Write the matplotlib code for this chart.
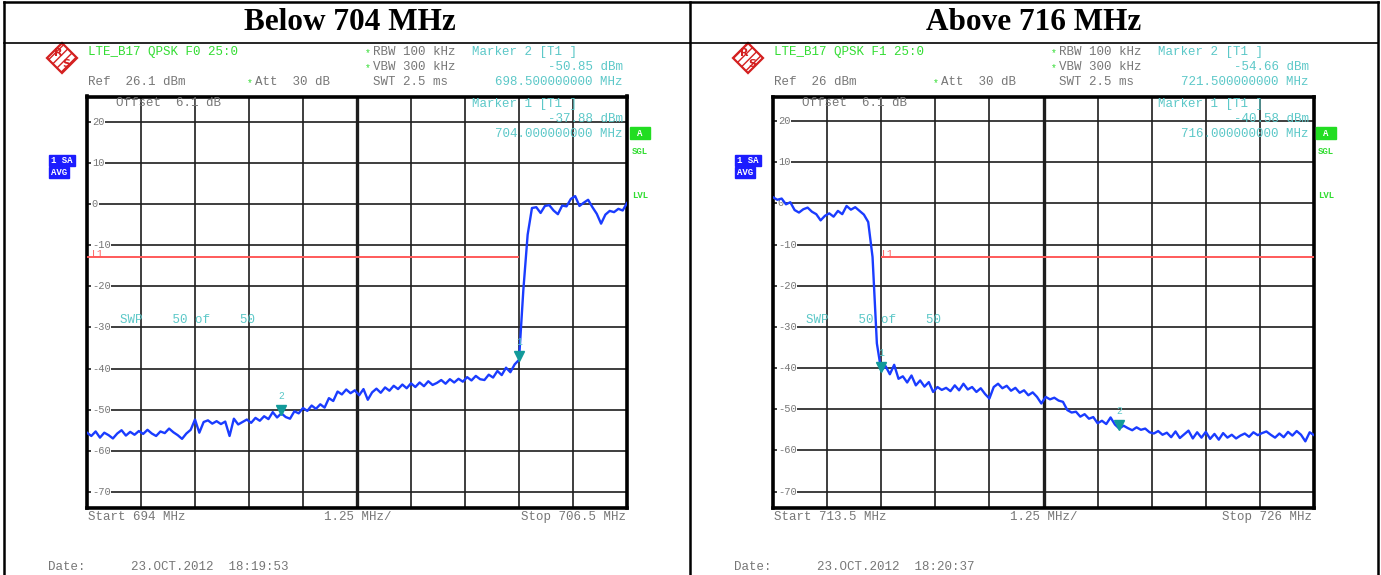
"""Spectrum analyzer screenshots: band-edge emissions below 704 MHz / above 716 MHz."""

import matplotlib
matplotlib.use("Agg")
import matplotlib.pyplot as plt
from matplotlib.patches import Polygon, Rectangle
from matplotlib.transforms import blended_transform_factory
import numpy as np

W, H = 1381, 575
MONO = "Liberation Mono"
SERIF = "Liberation Serif"

TRACE_BLUE = "#1a3cff"
TEAL = "#5cc8c8"
MARKER_TEAL = "#129a9a"
GREEN = "#33dd33"
GRAY = "#777777"
RED = "#ff5a5a"

# ── data ──
HEADERS = ["Below 704 MHz", "Above 716 MHz"]
LEFT_SPAN = (694.0, 706.5)
RIGHT_SPAN = (713.5, 726.0)
LEFT_REF = 26.1
RIGHT_REF = 26.0
LIMIT_DBM = -13.0
Y_TICKS = [20, 10, 0, -10, -20, -30, -40, -50, -60, -70]

LEFT_TRACE = [
    -55.6, -56.4, -55.3, -56.8, -55.6, -56.2, -57.0, -55.8, -55.0, -56.3,
    -55.4, -56.1, -55.2, -55.9, -54.9, -55.8, -56.4, -55.3, -55.7, -54.6,
    -55.5, -56.2, -57.1, -55.8, -54.9, -52.4, -55.6, -53.0, -52.6, -53.4,
    -52.8, -53.5, -52.9, -56.4, -52.2, -53.6, -53.0, -52.4, -53.2, -52.0,
    -52.7, -51.6, -52.3, -50.6, -51.9, -50.9, -51.8, -52.2, -50.4, -50.9,
    -49.6, -50.3, -49.0, -49.8, -48.7, -49.5, -47.2, -47.9, -45.6, -46.3,
    -45.1, -46.0, -45.3, -46.5, -45.0, -47.6, -45.8, -44.9, -45.9, -44.6,
    -45.4, -44.2, -45.0, -43.9, -44.8, -43.6, -44.5, -43.4, -44.3, -43.1,
    -44.0, -43.5, -42.8, -43.7, -42.6, -43.4, -42.5, -43.2, -42.1, -42.9,
    -41.8, -42.6, -42.8, -41.5, -42.2, -40.6, -41.6, -39.8, -40.9, -39.0,
    -37.9, -21.0, -7.5, -1.0, -0.8, -2.2, -0.5, -0.3, -1.6, -2.5,
    -0.4, -0.6, 1.2, 1.9, -0.5, 0.3, 1.0, -0.8, -2.4, -4.8,
    -2.6, -1.7, -2.0, -1.2, -1.6, 0.2,
]

RIGHT_TRACE = [
    1.5, 0.9, 1.2, -0.2, 0.3, -1.6, -2.2, -1.4, -1.0, -2.0,
    -2.6, -4.1, -3.0, -2.4, -3.2, -1.8, -2.6, -0.6, -1.5, -0.9,
    -1.8, -2.7, -4.5, -13.0, -34.0, -40.6,
    -39.5, -41.5, -39.2, -42.6, -42.0, -43.5, -41.8, -44.2, -43.0, -44.5,
    -43.4, -45.8, -44.6, -45.3, -44.8, -45.6, -44.2, -45.4, -43.8, -45.2,
    -44.6, -45.8, -44.9, -46.3, -47.4, -44.6, -43.8, -44.9, -44.3, -45.5,
    -44.8, -46.0, -45.4, -46.6, -45.9, -47.0, -48.6, -47.0, -47.6, -47.2,
    -47.9, -48.2, -50.2, -50.8, -50.6, -51.8, -51.2, -52.3, -51.9, -53.4,
    -52.8, -53.6, -52.0, -53.7, -54.7, -54.0, -54.6, -55.1, -54.4, -55.0,
    -54.7, -55.6, -55.9, -55.3, -56.2, -55.7, -56.8, -55.4, -57.0, -56.1,
    -55.2, -57.1, -55.6, -56.9, -55.5, -57.2, -56.0, -57.4, -55.8, -56.9,
    -56.2, -57.1, -56.4, -55.9, -56.7, -55.6, -56.3, -55.8, -55.4, -56.2,
    -56.9, -55.9, -56.8, -55.5, -56.4, -55.3, -56.2, -57.8, -55.6, -56.3,
]

LEFT_MARKERS = [(704.0, -37.88, "1"), (698.5, -50.85, "2")]
RIGHT_MARKERS = [(716.0, -40.58, "1"), (721.5, -54.66, "2")]
LEFT_LIMIT = (694.0, 704.0)
RIGHT_LIMIT = (716.0, 726.0)

LEFT_INFO = {
    "title": "LTE_B17 QPSK F0 25:0",
    "ref": "Ref  26.1 dBm",
    "m2_level": "-50.85 dBm",
    "m2_freq": "698.500000000 MHz",
    "m1_level": "-37.88 dBm",
    "m1_freq": "704.000000000 MHz",
    "start": "Start 694 MHz",
    "stop": "Stop 706.5 MHz",
    "date": "23.OCT.2012  18:19:53",
    "l1_x": 92,
}
RIGHT_INFO = {
    "title": "LTE_B17 QPSK F1 25:0",
    "ref": "Ref  26 dBm",
    "m2_level": "-54.66 dBm",
    "m2_freq": "721.500000000 MHz",
    "m1_level": "-40.58 dBm",
    "m1_freq": "716.000000000 MHz",
    "start": "Start 713.5 MHz",
    "stop": "Stop 726 MHz",
    "date": "23.OCT.2012  18:20:37",
    "l1_x": 196,
}


def px_axes(fig, x0, x1, ytop, ybot, **kw):
    return fig.add_axes([x0 / W, 1 - ybot / H, (x1 - x0) / W, (ybot - ytop) / H], **kw)


def draw_spectrum(fig, x0, x1, span, ref, trace, markers, limit):
    ax = px_axes(fig, x0, x1, 96.5, 508)
    start, stop = span
    ax.set_xlim(start, stop)
    ax.set_ylim(ref - 100, ref)
    ax.set_xticks([])
    ax.set_yticks([])
    for s in ax.spines.values():
        s.set_linewidth(2.6)
        s.set_color("black")

    step = (stop - start) / 10
    for k in range(1, 10):
        ax.axvline(start + k * step, color="#1e1e1e", lw=2.4 if k == 5 else 1.2, zorder=1)
    trans = blended_transform_factory(ax.transAxes, ax.transData)
    for t in Y_TICKS:
        ax.axhline(t, color="#1e1e1e", lw=1.2, zorder=1)
        ax.text(0.009, t, str(t), transform=trans, ha="left", va="center",
                fontsize=7.5, family=MONO, color=GRAY, zorder=2,
                bbox=dict(facecolor="white", edgecolor="none", pad=0.4))

    ax.hlines(LIMIT_DBM, limit[0], limit[1], color=RED, lw=1.4, zorder=3)

    freqs = np.linspace(start, stop, len(trace))
    ax.plot(freqs, trace, color=TRACE_BLUE, lw=1.7, zorder=4)

    for f, v, lab in markers:
        ax.plot(f, v + 0.8, marker="v", ms=6.5, color=MARKER_TEAL, zorder=5)
        ax.annotate(lab, (f, v), xytext=(0, 9), textcoords="offset points",
                    ha="center", va="bottom", fontsize=7, family=MONO, color=TEAL, zorder=5)
    return ax


def draw_logo(ov, cx, cy):
    r = 15
    diamond = Polygon([(cx, cy - r), (cx + r, cy), (cx, cy + r), (cx - r, cy)],
                      closed=True, facecolor="white", edgecolor="#d42020", lw=1.6,
                      hatch="////")
    ov.add_patch(diamond)
    ov.text(cx - 4, cy - 5, "R", ha="center", va="center", fontsize=8,
            fontweight="bold", color="#d42020", family="DejaVu Sans")
    ov.text(cx + 4, cy + 6, "S", ha="center", va="center", fontsize=8,
            fontweight="bold", color="#d42020", family="DejaVu Sans")


def draw_annotations(ov, dx, info):
    def t(x, y, s, color=GRAY, ha="left", size=9, **kw):
        ov.text(x + dx, y, s, ha=ha, va="center", fontsize=size, family=MONO,
                color=color, **kw)

    draw_logo(ov, 62 + dx, 58)
    t(88, 52, info["title"], GREEN)
    t(365, 53, "*", GREEN, size=7)
    t(373, 52, "RBW 100 kHz")
    t(365, 68, "*", GREEN, size=7)
    t(373, 67, "VBW 300 kHz")
    t(373, 82, "SWT 2.5 ms")
    t(472, 52, "Marker 2 [T1 ]", TEAL)
    t(623, 67, info["m2_level"], TEAL, ha="right")
    t(623, 82, info["m2_freq"], TEAL, ha="right")
    t(88, 82, info["ref"])
    t(247, 83, "*", GREEN, size=7)
    t(255, 82, "Att  30 dB")
    t(116, 103, "Offset  6.1 dB")
    t(472, 104, "Marker 1 [T1 ]", TEAL)
    t(623, 119, info["m1_level"], TEAL, ha="right")
    t(623, 134, info["m1_freq"], TEAL, ha="right")
    t(120, 320, "SWP    50 of    50", TEAL)
    t(info["l1_x"], 254, "L1", RED, size=7)
    t(88, 517, info["start"])
    t(358, 517, "1.25 MHz/", ha="center")
    t(626, 517, info["stop"], ha="right")
    t(48, 567, "Date:")
    t(131, 567, info["date"])

    # status boxes
    ov.add_patch(Rectangle((49 + dx, 155), 26, 11, color="#1c1cff", zorder=5))
    ov.add_patch(Rectangle((49 + dx, 167), 20, 11, color="#1c1cff", zorder=5))
    t(51, 160.5, "1 SA", "white", size=6.5, fontweight="bold", zorder=6)
    t(51, 172.5, "AVG", "white", size=6.5, fontweight="bold", zorder=6)
    ov.add_patch(Rectangle((630 + dx, 127), 20, 12, color="#22dd22", zorder=5))
    t(640, 133, "A", "white", ha="center", size=6.5, fontweight="bold", zorder=6)
    t(632, 152, "SGL", GREEN, size=6.5, fontweight="bold")
    t(632, 196, "LVL", GREEN, size=6.5, fontweight="bold")


def main():
    fig = plt.figure(figsize=(W / 100, H / 100), dpi=100)
    fig.patch.set_facecolor("white")

    draw_spectrum(fig, 87, 627, LEFT_SPAN, LEFT_REF, LEFT_TRACE, LEFT_MARKERS, LEFT_LIMIT)
    draw_spectrum(fig, 773, 1314, RIGHT_SPAN, RIGHT_REF, RIGHT_TRACE, RIGHT_MARKERS, RIGHT_LIMIT)

    ov = fig.add_axes([0, 0, 1, 1], zorder=10)
    ov.set_xlim(0, W)
    ov.set_ylim(H, 0)
    ov.axis("off")
    ov.patch.set_alpha(0)

    # table frame
    lw = 1.8
    for x in (4, 690, 1378):
        ov.plot([x, x], [2, H], color="black", lw=lw)
    ov.plot([4, 1378], [2, 2], color="black", lw=lw)
    ov.plot([4, 1378], [43, 43], color="black", lw=1.2)

    ov.text(350, 23, HEADERS[0], ha="center", va="center", fontsize=22.5,
            fontweight="bold", family=SERIF)
    ov.text(1034, 23, HEADERS[1], ha="center", va="center", fontsize=22.5,
            fontweight="bold", family=SERIF)

    draw_annotations(ov, 0, LEFT_INFO)
    draw_annotations(ov, 686, RIGHT_INFO)

    fig.savefig("out.png", dpi=100)


if __name__ == "__main__":
    main()
